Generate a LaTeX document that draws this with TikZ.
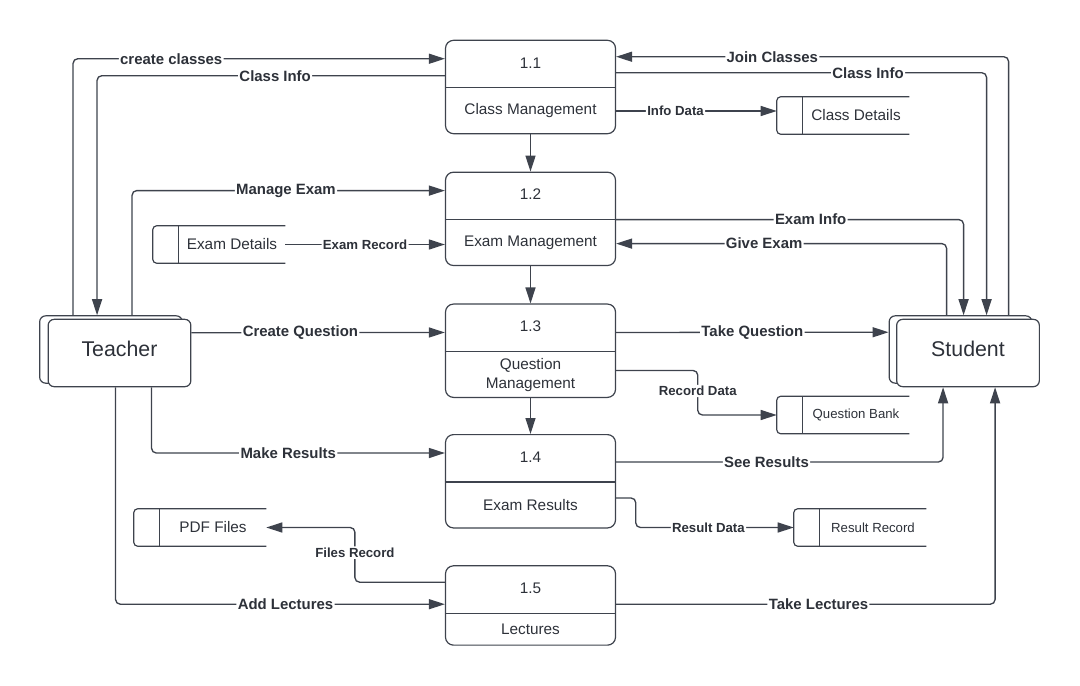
\documentclass[tikz,border=0pt]{standalone}
\usepackage{fontspec}
\setmainfont{Liberation Sans}
\usetikzlibrary{positioning,arrows.meta,calc}
\definecolor{dfdLine}{RGB}{62,67,77}
\definecolor{dfdText}{RGB}{45,49,57}

\begin{document}
\begin{tikzpicture}[
    x=0.75pt, y=-0.75pt,
    >={Triangle[length=12pt,width=7.5pt]},
    process node/.style={rectangle, rounded corners=6pt, draw=dfdLine, line width=0.9pt, minimum width=127.5pt, minimum height=70pt},
    proc text/.style={font=\fontsize{11.5}{14}\selectfont, text=dfdText, align=center},
    entity node/.style={rectangle, rounded corners=4.5pt, draw=dfdLine, line width=0.9pt, fill=white, minimum width=107pt, minimum height=50.5pt, text depth=6pt, font=\fontsize{16}{19}\selectfont, text=dfdText},
    store node/.style={inner sep=0pt, minimum width=79.5pt, minimum height=27.75pt, font=\fontsize{11.5}{14}\selectfont, text=dfdText},
    store line/.style={draw=dfdLine, line width=0.9pt, rounded corners=3pt},
    flow line/.style={->, draw=dfdLine, line width=1pt, rounded corners=3.5pt},
    flow note/.style={font=\bfseries\fontsize{11.2}{13}\selectfont, text=dfdText, fill=white, inner sep=1pt},
    small note/.style={flow note, font=\bfseries\fontsize{9.9}{12}\selectfont}
]
  \useasboundingbox (0,0) rectangle (1080,685);

  % external entities
  \node[entity node] (tback) at (111,349.5) {};
  \node[entity node] (teacher) at (119.5,353) {Teacher};
  \node[entity node] (sback) at (960.5,349.5) {};
  \node[entity node] (student) at (968,353) {Student};

  % processes
  \node[process node] (p1) at (530.5,87) {};
  \node[process node] (p2) [below=28pt of p1] {};
  \node[process node] (p3) [below=28pt of p2] {};
  \node[process node] (p4) [below=27pt of p3] {};
  \node[process node, minimum height=59.5pt] (p5) [below=27.5pt of p4] {};

  \foreach \i/\name in {1/Class Management, 2/Exam Management, 3/{Question\\Management}, 4/Exam Results, 5/Lectures} {
    \draw[dfdLine, line width=0.9pt] ($(p\i.north west)+(0,48)$) -- ($(p\i.north east)+(0,48)$);
    \node[proc text] (n\i) at ($(p\i.north)+(0,23)$) {1.\i};
    \node[proc text] (t\i) at ($(p\i.center)+(0,24)$) {\name};
  }

  % data stores
  \node[store node] (cd) at (856,115.5) {Class Details};
  \node[store node] (ed) at (232,244.5) {Exam Details};
  \node[store node, font=\fontsize{9.9}{12}\selectfont] (qb) at (856,415) {Question Bank};
  \node[store node, font=\fontsize{9.9}{12}\selectfont] (rr) at (873,527.5) {Result Record};
  \node[store node] (pdf) at (213,527.5) {PDF Files};

  \foreach \s in {cd,ed,qb,rr,pdf} {
    \draw[store line] (\s.north east) -- ($(\s.north west)+(-26,0)$) -- ($(\s.south west)+(-26,0)$) -- (\s.south east);
    \draw[dfdLine, line width=0.9pt] (\s.north west) -- (\s.south west);
    \coordinate (\s-l) at ($(\s.west)+(-26,0)$);
  }

  % process chain
  \draw[flow line] (p1) -- (p2);
  \draw[flow line] (p2) -- (p3);
  \draw[flow line] (p3) -- (p4);

  % teacher side
  \draw[flow line] ($(tback.north west)+(34,0)$) |- node[flow note, pos=0.632] {create classes} ($(p1.north west)+(0,19)$);
  \draw[flow line] ($(p1.north west)+(0,36)$) -| node[flow note, pos=0.244] {Class Info} ($(tback.north west)+(58,0)$);
  \draw[flow line] ($(tback.north west)+(93,0)$) |- node[flow note, pos=0.746] {Manage Exam} ($(p2.north west)+(0,19)$);
  \draw[flow line] (ed.east) -- node[small note] {Exam Record} (ed.east -| p2.west);
  \draw[flow line] ($(teacher.north east)+(0,14)$) -- node[flow note, pos=0.43] {Create Question} ($(p3.north west)+(0,29)$);
  \draw[flow line] ($(teacher.south west)+(104,0)$) |- node[flow note, pos=0.733] {Make Results} ($(p4.north west)+(0,19)$);
  \draw[flow line] ($(teacher.south west)+(68,0)$) |- node[flow note, pos=0.758] {Add Lectures} ($(p5.north west)+(0,39)$);
  \draw[flow line] ($(p5.north west)+(0,17)$) -- ($(p5.north west)+(-90,17)$) |- node[small note, pos=0.27] {Files Record} (pdf.east);

  % student side
  \draw[flow line] (p1.east |- t1) -- node[small note, pos=0.37] {Info Data} (cd-l |- t1);
  \draw[flow line] ($(sback.north west)+(120,0)$) |- node[flow note, pos=0.801] {Join Classes} ($(p1.north east)+(0,17)$);
  \draw[flow line] ($(p1.north east)+(0,33)$) -| node[flow note, pos=0.34] {Class Info} ($(sback.north west)+(98,0)$);
  \draw[flow line] ($(p2.north east)+(0,48)$) -| node[flow note, pos=0.28] {Exam Info} ($(sback.north west)+(75,0)$);
  \draw[flow line] ($(sback.north west)+(58,0)$) |- node[flow note, pos=0.776] {Give Exam} ($(p2.north east)+(0,72)$);
  \draw[flow line] ($(p3.north east)+(0,29)$) -- node[flow note] {Take Question} ($(sback.north west)+(0,17)$);
  \draw[flow line] ($(p3.north east)+(0,67)$) -| node[small note, pos=0.73] {Record Data} ($(qb-l)+(-79,0)$) -- (qb-l);
  \draw[flow line] ($(p4.north east)+(0,28)$) -| node[flow note, pos=0.23] {See Results} ($(student.south west)+(47,0)$);
  \draw[flow line] ($(p4.north east)+(0,64)$) -| ($(rr-l)+(-158,0)$) -- node[small note, pos=0.46] {Result Data} (rr-l);
  \draw[flow line] ($(p5.north east)+(0,39)$) -| node[flow note, pos=0.267] {Take Lectures} ($(student.south west)+(99,0)$);
\end{tikzpicture}
\end{document}
